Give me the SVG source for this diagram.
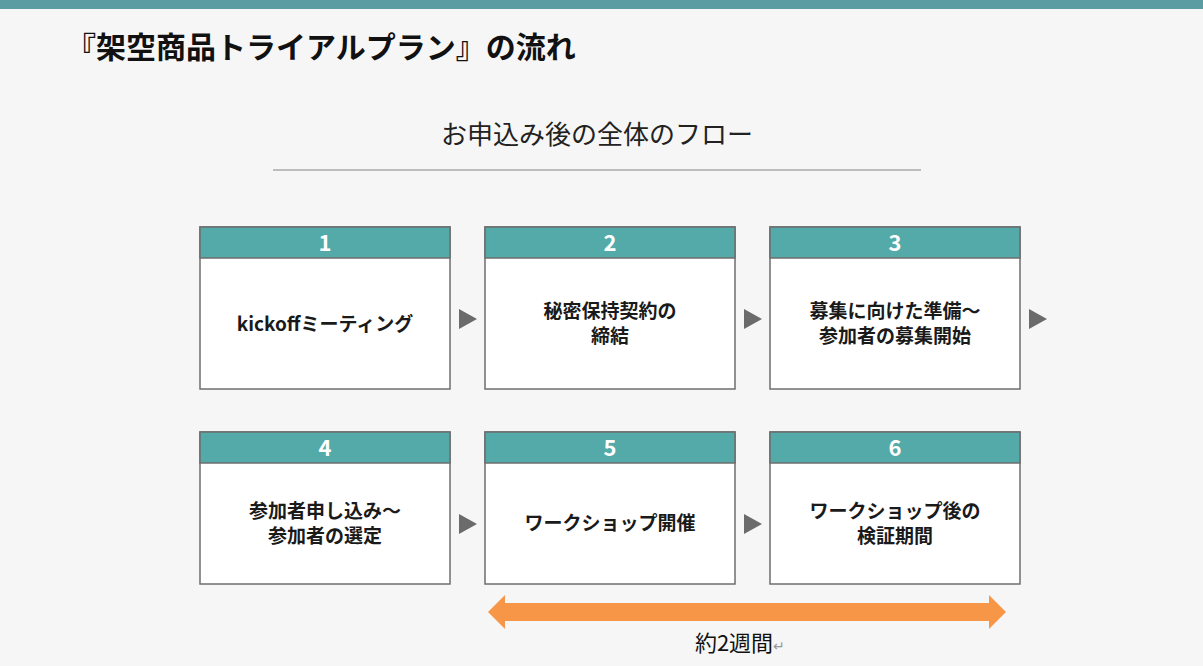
<svg xmlns="http://www.w3.org/2000/svg" width="1203" height="666" viewBox="0 0 1203 666">
<style>
text{font-family:"Noto Sans CJK JP","Noto Sans",sans-serif}
.box{fill:#fff;stroke:#6e6e6e;stroke-width:1.5}
.hd{fill:#53aaa9;stroke:#6e6e6e;stroke-width:1.5}
.num{fill:#fff;font-size:22px;font-weight:bold;text-anchor:middle}
.lbl{fill:#1a1a1a;font-size:19px;font-weight:bold;text-anchor:middle}
.tri{fill:#6b6b6b}
</style>
<rect width="1203" height="666" fill="#f6f6f6"/>
<rect width="1203" height="9" fill="#5a9ca2"/>
<text x="66" y="58" font-size="30" font-weight="bold" fill="#111">『架空商品トライアルプラン』の流れ</text>
<text x="597" y="144" font-size="26" fill="#222" text-anchor="middle">お申込み後の全体のフロー</text>
<line x1="273" y1="170" x2="921" y2="170" stroke="#aaa" stroke-width="1.5"/>
<g id="n1"><rect class="box" x="200" y="227" width="250" height="162"/><rect class="hd" x="200" y="227" width="250" height="31"/><text class="num" x="325" y="251">1</text><text class="lbl" x="325" y="331">kickoffミーティング</text></g>
<g id="n2"><rect class="box" x="485" y="227" width="250" height="162"/><rect class="hd" x="485" y="227" width="250" height="31"/><text class="num" x="610" y="251">2</text><text class="lbl" x="610" y="318">秘密保持契約の</text><text class="lbl" x="610" y="343">締結</text></g>
<g id="n3"><rect class="box" x="770" y="227" width="250" height="162"/><rect class="hd" x="770" y="227" width="250" height="31"/><text class="num" x="895" y="251">3</text><text class="lbl" x="895" y="318">募集に向けた準備～</text><text class="lbl" x="895" y="343">参加者の募集開始</text></g>
<g id="n4"><rect class="box" x="200" y="432" width="250" height="152"/><rect class="hd" x="200" y="432" width="250" height="31"/><text class="num" x="325" y="456">4</text><text class="lbl" x="325" y="518">参加者申し込み～</text><text class="lbl" x="325" y="543">参加者の選定</text></g>
<g id="n5"><rect class="box" x="485" y="432" width="250" height="152"/><rect class="hd" x="485" y="432" width="250" height="31"/><text class="num" x="610" y="456">5</text><text class="lbl" x="610" y="530">ワークショップ開催</text></g>
<g id="n6"><rect class="box" x="770" y="432" width="250" height="152"/><rect class="hd" x="770" y="432" width="250" height="31"/><text class="num" x="895" y="456">6</text><text class="lbl" x="895" y="518">ワークショップ後の</text><text class="lbl" x="895" y="543">検証期間</text></g>
<g id="connectors">
<polygon class="tri" points="459,309 477,319 459,329"/>
<polygon class="tri" points="744,309 762,319 744,329"/>
<polygon class="tri" points="1029,309 1047,319 1029,329"/>
<polygon class="tri" points="459,514 477,524 459,534"/>
<polygon class="tri" points="744,514 762,524 744,534"/>
<polygon points="488,612 505,595 505,603 989,603 989,595 1006,612 989,629 989,621 505,621 505,629" fill="#f79646"/>
</g>
<text x="740" y="651" font-size="22" fill="#111" text-anchor="middle">約2週間<tspan font-size="14" fill="#999">↵</tspan></text>
</svg>
